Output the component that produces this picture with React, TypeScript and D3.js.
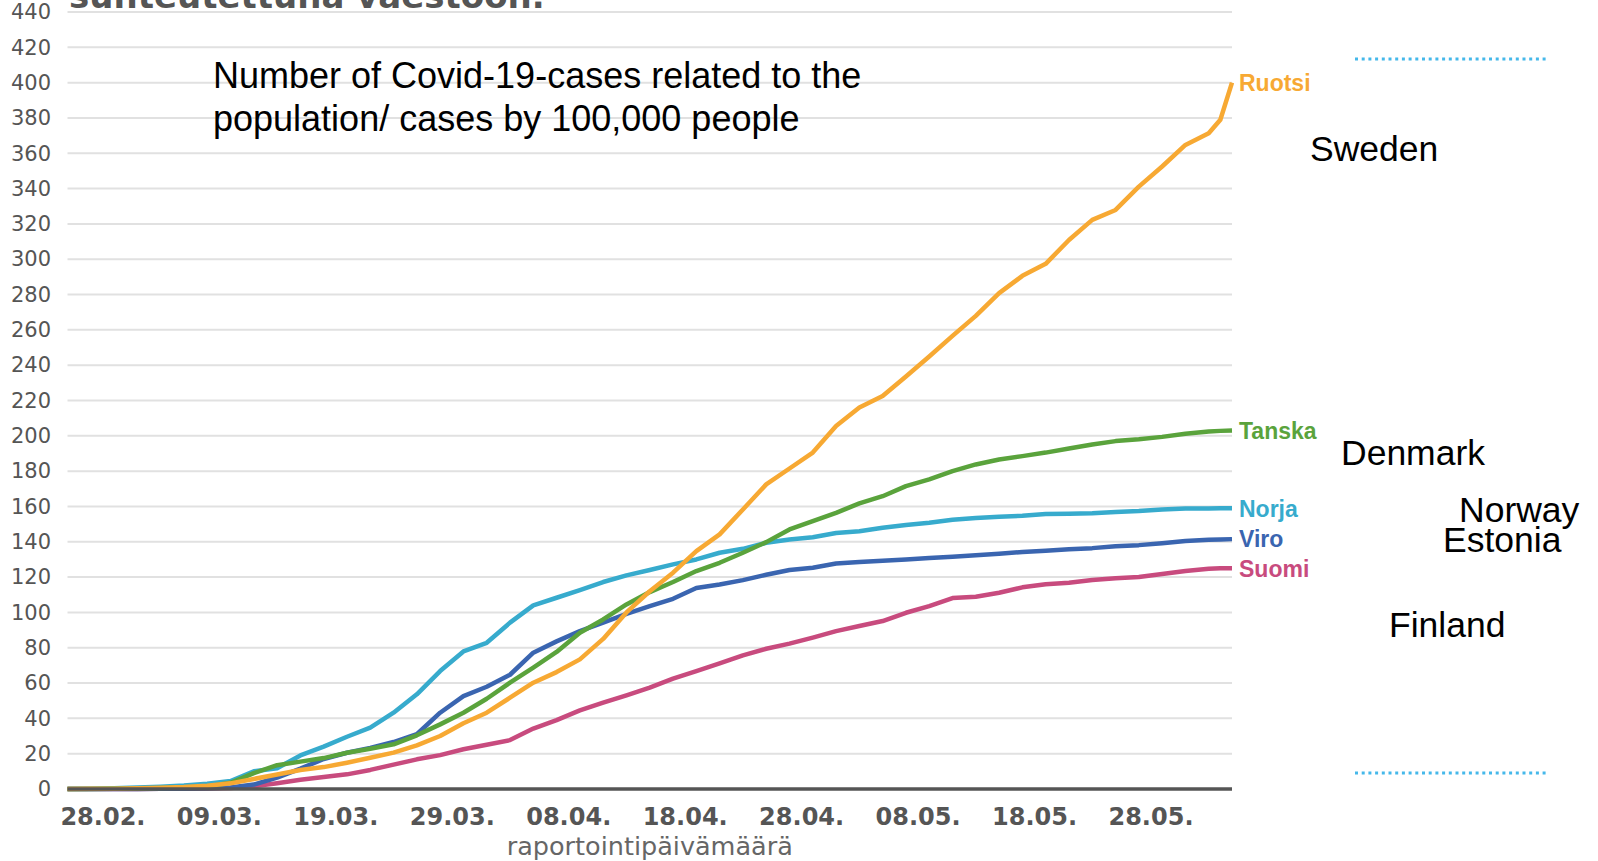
import React, { useEffect, useRef } from "react";
import * as d3 from "d3";

// reporting dates (every second day, plus the last two days)
const dates = [
  "2020-02-25", "2020-02-27", "2020-02-29", "2020-03-02", "2020-03-04", "2020-03-06",
  "2020-03-08", "2020-03-10", "2020-03-12", "2020-03-14", "2020-03-16", "2020-03-18",
  "2020-03-20", "2020-03-22", "2020-03-24", "2020-03-26", "2020-03-28", "2020-03-30",
  "2020-04-01", "2020-04-03", "2020-04-05", "2020-04-07", "2020-04-09", "2020-04-11",
  "2020-04-13", "2020-04-15", "2020-04-17", "2020-04-19", "2020-04-21", "2020-04-23",
  "2020-04-25", "2020-04-27", "2020-04-29", "2020-05-01", "2020-05-03", "2020-05-05",
  "2020-05-07", "2020-05-09", "2020-05-11", "2020-05-13", "2020-05-15", "2020-05-17",
  "2020-05-19", "2020-05-21", "2020-05-23", "2020-05-25", "2020-05-27", "2020-05-29",
  "2020-05-31", "2020-06-02", "2020-06-03", "2020-06-04",
];

const ruotsi = [
  0, 0.1, 0.2, 0.4, 0.7, 1.1, 1.8, 3.2, 5.7, 8.2, 10.8, 12.4, 14.9, 17.7, 20.6, 24.7,
  30, 37.2, 43.2, 51.7, 60.2, 66.2, 73.4, 85, 100, 112, 122.5, 134.7, 144.2, 158.3,
  172.5, 181.5, 190.5, 205.5, 216, 222.5, 233.6, 244.9, 256.6, 267.9, 280.8, 290.6,
  297.4, 310.9, 322.3, 327.9, 341.1, 352.5, 364.7, 371.3, 379, 400,
];

const tanska = [
  0, 0, 0.1, 0.3, 0.5, 0.8, 1.5, 3.5, 9, 13.5, 15.5, 17.5, 20.5, 22.8, 25.3, 30.4,
  36.6, 43.2, 51.1, 60.2, 68.7, 77.6, 88.5, 96, 104.5, 111.5, 117.2, 123.4, 128.1, 133.8,
  139.8, 147, 151.7, 156.4, 161.7, 165.8, 171.5, 175.3, 180, 183.8, 186.6, 188.5,
  190.5, 192.8, 195.1, 197, 198, 199.4, 201.2, 202.5, 202.8, 203,
];

const norja = [
  0, 0.2, 0.4, 0.8, 1.3, 2, 3, 4.5, 10, 11.8, 19, 24, 29.6, 34.7, 43.2, 53.6,
  66.8, 77.9, 82.8, 94.2, 104, 108.3, 112.6, 117.2, 121, 124, 127.2, 130, 133.8, 136,
  139.4, 141.3, 142.6, 145, 146, 147.9, 149.5, 150.8, 152.5, 153.4, 154.2, 154.7,
  155.7, 155.9, 156.2, 156.8, 157.4, 158.3, 158.8, 158.8, 159, 159,
];

const viro = [
  0, 0, 0, 0, 0.1, 0.2, 0.4, 0.8, 2.5, 6.5, 11.5, 17, 20.5, 23.3, 26.6, 31,
  43.2, 52.6, 57.9, 64.7, 77.2, 83.6, 89.4, 94.2, 99.2, 103.5, 107.7, 113.8, 115.8, 118.3,
  121.3, 124, 125.3, 127.7, 128.5, 129.2, 130, 130.8, 131.5, 132.3, 133.2, 134.2,
  134.9, 135.7, 136.4, 137.5, 138.1, 139.2, 140.4, 141.1, 141.3, 141.5,
];

const suomi = [
  0, 0, 0, 0, 0.1, 0.2, 0.3, 0.6, 1.5, 3.3, 5.2, 6.8, 8.3, 10.8, 13.8, 16.8,
  19.2, 22.5, 25.1, 27.7, 34.2, 39, 44.5, 48.9, 53, 57.4, 62.5, 66.8, 71.1, 75.7,
  79.4, 82.3, 85.7, 89.4, 92.3, 95.1, 99.8, 103.6, 108.1, 108.9, 111.1, 114.2,
  116, 116.8, 118.3, 119.4, 120, 121.7, 123.4, 124.7, 125, 125,
];

const xTickDates = [
  "2020-02-28", "2020-03-09", "2020-03-19", "2020-03-29", "2020-04-08",
  "2020-04-18", "2020-04-28", "2020-05-08", "2020-05-18", "2020-05-28",
];
const yTicks = [0, 20, 40, 60, 80, 100, 120, 140, 160, 180, 200, 220, 240, 260, 280, 300, 320, 340, 360, 380, 400, 420, 440];

const series = [
  { name: "Suomi", values: suomi, color: "#c84b7e" },
  { name: "Viro", values: viro, color: "#3a65b0" },
  { name: "Norja", values: norja, color: "#37abcd" },
  { name: "Tanska", values: tanska, color: "#5aa33c" },
  { name: "Ruotsi", values: ruotsi, color: "#f7a933" },
];

const englishNames = [
  { text: "Sweden", x: 1310, y: 161 },
  { text: "Denmark", x: 1341, y: 465 },
  { text: "Norway", x: 1459, y: 522 },
  { text: "Estonia", x: 1443, y: 552 },
  { text: "Finland", x: 1389, y: 637 },
];

const noteLines = [
  "Number of Covid-19-cases related to the",
  "population/ cases by 100,000 people",
];

export default function App() {
  const svgRef = useRef<SVGSVGElement>(null);
  const width = 1598;
  const height = 861;
  const left = 67.5;
  const right = 1232;
  const top = 12;
  const bottom = 789;

  useEffect(() => {
    const svg = d3.select(svgRef.current);
    svg.selectAll("*").remove();

    const parse = d3.utcParse("%Y-%m-%d");
    const days = dates.map((d) => parse(d) as Date);

    const x = d3
      .scaleUtc()
      .domain([days[0], days[days.length - 1]])
      .range([left, right]);
    const y = d3.scaleLinear().domain([0, 440]).range([bottom, top]);

    // cut-off chart title at the very top
    svg
      .append("text")
      .attr("x", 69)
      .attr("y", 8)
      .attr("font-family", "DejaVu Sans")
      .attr("font-weight", "bold")
      .attr("font-size", 34)
      .attr("fill", "#555")
      .text("suhteutettuna väestöön.");

    // horizontal grid
    svg
      .append("g")
      .selectAll("line")
      .data(yTicks.filter((t) => t > 0))
      .join("line")
      .attr("x1", left)
      .attr("x2", right)
      .attr("y1", (d) => y(d))
      .attr("y2", (d) => y(d))
      .attr("stroke", "#e1e1e1")
      .attr("stroke-width", 2);

    // y axis labels
    const yAxis = svg
      .append("g")
      .attr("transform", `translate(${left},0)`)
      .call(d3.axisLeft(y).tickValues(yTicks).tickSize(0).tickPadding(16.5));
    yAxis.select(".domain").remove();
    yAxis
      .selectAll("text")
      .attr("font-family", "DejaVu Sans")
      .attr("font-size", 21)
      .attr("fill", "#555");

    // lines
    const line = d3
      .line<number>()
      .x((_, i) => x(days[i]))
      .y((v) => y(v));

    svg
      .append("g")
      .selectAll("path")
      .data(series)
      .join("path")
      .attr("fill", "none")
      .attr("stroke", (d) => d.color)
      .attr("stroke-width", 4.5)
      .attr("stroke-linejoin", "round")
      .attr("d", (d) => line(d.values));

    // x axis
    const xAxis = svg
      .append("g")
      .attr("transform", `translate(0,${bottom})`)
      .call(
        d3
          .axisBottom(x)
          .tickValues(xTickDates.map((d) => parse(d) as Date))
          .tickFormat((d) => d3.utcFormat("%d.%m.")(d as Date))
          .tickSize(0)
          .tickPadding(19)
      );
    xAxis
      .select(".domain")
      .attr("stroke", "#555")
      .attr("stroke-width", 3.5)
      .attr("d", `M${left},0H${right}`);
    xAxis
      .selectAll("text")
      .attr("font-family", "DejaVu Sans")
      .attr("font-weight", "bold")
      .attr("font-size", 24)
      .attr("fill", "#555");

    svg
      .append("text")
      .attr("x", (left + right) / 2)
      .attr("y", 855)
      .attr("text-anchor", "middle")
      .attr("font-family", "DejaVu Sans")
      .attr("font-size", 25.5)
      .attr("fill", "#666")
      .text("raportointipäivämäärä");

    // end labels
    svg
      .append("g")
      .selectAll("text")
      .data(series)
      .join("text")
      .attr("x", right + 7)
      .attr("y", (d) => y(d.values[d.values.length - 1]))
      .attr("dy", "0.36em")
      .attr("font-family", "Liberation Sans, Arial, sans-serif")
      .attr("font-weight", "bold")
      .attr("font-size", 23)
      .attr("fill", (d) => d.color)
      .text((d) => d.name);

    // overlaid annotation
    svg
      .append("g")
      .selectAll("text")
      .data(noteLines)
      .join("text")
      .attr("x", 213)
      .attr("y", (_, i) => 88 + i * 43)
      .attr("font-family", "Liberation Sans, Arial, sans-serif")
      .attr("font-size", 36)
      .attr("fill", "#000")
      .text((d) => d);

    svg
      .append("g")
      .selectAll("text")
      .data(englishNames)
      .join("text")
      .attr("x", (d) => d.x)
      .attr("y", (d) => d.y)
      .attr("font-family", "Liberation Sans, Arial, sans-serif")
      .attr("font-size", 35.5)
      .attr("fill", "#000")
      .text((d) => d.text);

    // dotted guide lines on the right
    svg
      .append("g")
      .selectAll("line")
      .data([59, 773])
      .join("line")
      .attr("x1", 1355)
      .attr("x2", 1549)
      .attr("y1", (d) => d)
      .attr("y2", (d) => d)
      .attr("stroke", "#45b8ea")
      .attr("stroke-width", 3)
      .attr("stroke-dasharray", "3 3.7");
  }, []);

  return (
    <svg
      ref={svgRef}
      width={width}
      height={height}
      style={{ position: "absolute", left: 0, top: 0, background: "#fff" }}
    />
  );
}
